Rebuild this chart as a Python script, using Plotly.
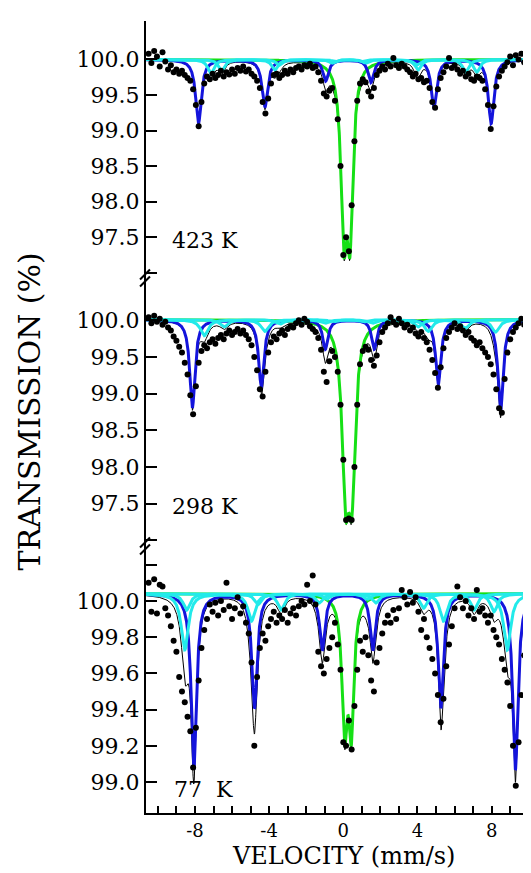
import numpy as np
import plotly.graph_objects as go

# ---------------- data ----------------
# velocity channels (mm/s), same for all three spectra
VELOCITY = [round(-10.5 + 0.15 * i, 2) for i in range(140)]

T423_DATA = [
    100.08, 99.95, 100.12, 100.04, 99.90, 100.10, 99.97, 99.86, 99.92, 99.82,
    99.86, 99.80, 99.84, 99.78, 99.74, 99.70, 99.58, 99.36, 99.06, 99.40,
    99.66, 99.76, 99.72, 99.80, 99.74, 99.78, 99.84, 99.76, 99.82, 99.79,
    99.86, 99.80, 99.88, 99.84, 99.90, 99.83, 99.86, 99.80, 99.76, 99.70,
    99.60, 99.40, 99.24, 99.45, 99.66, 99.78, 99.80, 99.74, 99.78, 99.84,
    99.80, 99.86, 99.82, 99.88, 99.90, 99.86, 99.92, 99.90, 99.94, 99.88,
    99.90, 99.82, 99.70, 99.52, 99.48, 99.56, 99.60, 99.42, 99.16, 98.50,
    97.25, 97.50, 97.30, 97.95, 98.85, 99.42, 99.66, 99.72, 99.68, 99.55,
    99.48, 99.60, 99.78, 99.84, 99.90, 99.86, 99.94, 99.90, 100.02, 99.92,
    99.88, 99.94, 99.90, 99.86, 99.82, 99.76, 99.80, 99.72, 99.74, 99.68,
    99.70, 99.60, 99.40, 99.32, 99.58, 99.74, 99.82, 99.90, 100.02, 99.88,
    99.92, 99.86, 99.80, 99.84, 99.76, 99.80, 99.72, 99.70, 99.76, 99.74,
    99.70, 99.58, 99.36, 99.02, 99.34, 99.62, 99.76, 99.84, 99.90, 99.96,
    100.04, 99.92, 100.06, 100.00, 100.08, 99.96, 100.10, 100.02, 99.94, 100.06,
]

T298_DATA = [
    100.04, 99.96, 100.06, 99.98, 100.02, 99.94, 99.98, 99.90, 99.86, 99.78,
    99.72, 99.64, 99.56, 99.42, 99.26, 98.98, 98.72, 99.10, 99.42, 99.58,
    99.66, 99.62, 99.70, 99.74, 99.68, 99.76, 99.80, 99.74, 99.82, 99.86,
    99.80, 99.84, 99.88, 99.82, 99.86, 99.80, 99.74, 99.66, 99.50, 99.32,
    99.06, 98.96, 99.30, 99.56, 99.70, 99.78, 99.74, 99.82, 99.86, 99.80,
    99.88, 99.92, 99.90, 99.96, 100.00, 99.94, 100.02, 99.98, 99.92, 99.88,
    99.84, 99.76, 99.60, 99.30, 99.16, 99.44, 99.58, 99.50, 99.30, 98.85,
    98.10, 97.28, 97.30, 97.28, 98.00, 98.85, 99.40, 99.58, 99.64, 99.60,
    99.46, 99.38, 99.52, 99.70, 99.84, 99.90, 99.96, 100.04, 99.98, 99.94,
    100.02, 99.96, 99.90, 99.94, 99.86, 99.90, 99.82, 99.78, 99.84, 99.76,
    99.70, 99.60, 99.46, 99.28, 99.08, 99.36, 99.62, 99.76, 99.84, 99.90,
    99.96, 99.88, 99.92, 99.86, 99.80, 99.84, 99.76, 99.72, 99.66, 99.70,
    99.62, 99.56, 99.50, 99.40, 99.26, 99.06, 98.80, 98.74, 99.20, 99.56,
    99.74, 99.84, 99.90, 99.96, 100.02, 99.94, 100.06, 100.00, 100.10, 100.04,
]

T77_DATA = [
    100.10, 99.94, 100.12, 99.93, 100.09, 100.08, 99.96, 99.92, 99.86, 99.78,
    99.72, 99.58, 99.50, 99.44, 99.36, 99.28, 99.08, 99.30, 99.56, 99.74,
    99.84, 99.90, 99.98, 99.94, 99.99, 99.92, 100.00, 99.95, 100.10, 99.97,
    99.90, 99.96, 100.02, 99.93, 99.97, 99.88, 99.82, 99.66, 99.20, 99.58,
    99.74, 99.82, 99.78, 99.86, 99.90, 99.94, 99.88, 99.92, 99.90, 99.95,
    99.88, 99.93, 99.96, 99.92, 99.97, 100.00, 99.98, 100.09, 100.00, 100.14,
    99.98, 99.72, 99.64, 99.60, 99.68, 99.74, 99.80, 99.88, 99.76, 99.62,
    99.22, 99.20, 99.34, 99.18, 99.42, 99.62, 99.78, 99.72, 99.80, 99.70,
    99.56, 99.50, 99.66, 99.74, 99.82, 99.88, 99.92, 99.88, 99.95, 99.90,
    99.96, 100.06, 100.02, 99.98, 100.05, 99.99, 100.02, 99.94, 99.84, 99.90,
    99.80, 99.74, 99.68, 99.60, 99.48, 99.33, 99.46, 99.64, 99.76, 99.86,
    99.96, 100.08, 100.02, 99.96, 100.00, 99.92, 99.96, 99.90, 100.06, 99.94,
    99.96, 99.92, 99.88, 99.92, 99.84, 99.80, 99.76, 99.68, 99.62, 99.55,
    99.42, 99.20, 98.98, 99.22, 99.48, 99.70, 99.84, 99.96, 100.06, 100.02,
]

TEMPERATURE_LABELS = ["423 K", "298 K", "77\u00a0\u00a0K"]

# fitted sub-spectra: line positions (mm/s), depths (%), widths (mm/s)
T423_BASELINE = 100.0
T423_BLUE_POS = [-7.81, -4.23, -0.95, 1.49, 4.89, 7.97]
T423_BLUE_DEPTH = [0.90, 0.67, 0.30, 0.32, 0.67, 0.90]
T423_BLUE_WIDTH = 0.36
T423_GREEN_POS = [0.03, 0.36]
T423_GREEN_DEPTH = [2.22, 2.22]
T423_GREEN_WIDTH = 0.38
T423_CYAN1_POS = [-7.14, -3.69, -0.60, 1.20, 4.03, 7.20]
T423_CYAN1_DEPTH = [0.20, 0.15, 0.05, 0.05, 0.15, 0.18]
T423_CYAN2_POS = [-6.56, -3.45, -0.45, 1.00, 3.95, 6.60]
T423_CYAN2_DEPTH = [0.16, 0.08, 0.03, 0.03, 0.08, 0.18]
T423_CYAN_WIDTH = 0.40

T298_BASELINE = 100.01
T298_BLUE_POS = [-8.14, -4.42, -0.97, 1.67, 5.12, 8.48]
T298_BLUE_DEPTH = [1.20, 0.92, 0.40, 0.40, 0.88, 1.25]
T298_BLUE_WIDTH = 0.34
T298_GREEN_POS = [0.12, 0.46]
T298_GREEN_DEPTH = [2.10, 2.10]
T298_GREEN_WIDTH = 0.44
T298_CYAN1_POS = [-7.50, -4.23, -1.00, 1.55, 4.58, 8.21]
T298_CYAN1_DEPTH = [0.22, 0.16, 0.05, 0.05, 0.16, 0.17]
T298_CYAN2_POS = [-6.42, -3.40, -0.55, 1.10, 4.03, 6.57]
T298_CYAN2_DEPTH = [0.10, 0.06, 0.03, 0.03, 0.10, 0.12]
T298_CYAN_WIDTH = 0.50

T77_BASELINE = 100.04
T77_BLUE_POS = [-8.06, -4.79, -1.13, 1.59, 5.26, 9.28]
T77_BLUE_DEPTH = [0.97, 0.63, 0.31, 0.31, 0.63, 0.97]
T77_BLUE_WIDTH = 0.34
T77_GREEN_POS = [0.07, 0.43]
T77_GREEN_DEPTH = [0.71, 0.71]
T77_GREEN_WIDTH = 0.34
T77_CYAN1_POS = [-8.55, -4.95, -1.30, 1.75, 5.40, 8.84]
T77_CYAN1_DEPTH = [0.31, 0.15, 0.05, 0.05, 0.15, 0.31]
T77_CYAN2_POS = [-8.45, -4.60, -0.90, 1.30, 4.33, 8.12]
T77_CYAN2_DEPTH = [0.09, 0.06, 0.03, 0.03, 0.08, 0.10]
T77_CYAN3_POS = [-3.36, 7.05]
T77_CYAN3_DEPTH = [0.09, 0.09]
T77_CYAN_WIDTH = 0.45

X_TICKS = list(range(-10, 11))
X_TICK_TEXT = [str(v) if v % 4 == 0 and abs(v) < 10 else "" for v in X_TICKS]
HIGH_T_TICKS = [97.0, 97.5, 98.0, 98.5, 99.0, 99.5, 100.0]
HIGH_T_TICK_TEXT = ["", "97.5", "98.0", "98.5", "99.0", "99.5", "100.0"]
LOW_T_TICKS = [99.0, 99.2, 99.4, 99.6, 99.8, 100.0, 100.2]
LOW_T_TICK_TEXT = ["99.0", "99.2", "99.4", "99.6", "99.8", "100.0", ""]

# ---------------- layout geometry ----------------
W, H = 531, 873
ML, MR, MT, MB = 138, 0, 13, 68
PW = W - ML - MR
PH = H - MT - MB
X_RANGE = [-10.64, 10.445]
Y1_RANGE = [96.925, 100.541]
Y2_RANGE = [96.911, 100.576]
Y3_RANGE = [98.829, 100.298]
D3 = [0.0, 0.3359]
D2 = [0.3359, 0.6755]
D1 = [0.6755, 1.0]

BLUE = "#1414dc"
GREEN = "#16e016"
CYAN = "#22eaea"
FONT = "DejaVu Serif"


def lorentz(v, pos, depth, width):
    g = width / 2.0
    out = np.zeros_like(v)
    for p, d in zip(pos, depth):
        out += d / (1.0 + ((v - p) / g) ** 2)
    return out


vfine = np.linspace(X_RANGE[0], X_RANGE[1], 3000)

panels = [
    dict(yaxis="y", data=T423_DATA, base=T423_BASELINE, comps=[
        (GREEN, T423_GREEN_POS, T423_GREEN_DEPTH, T423_GREEN_WIDTH),
        (BLUE, T423_BLUE_POS, T423_BLUE_DEPTH, T423_BLUE_WIDTH),
        (CYAN, T423_CYAN1_POS, T423_CYAN1_DEPTH, T423_CYAN_WIDTH),
        (CYAN, T423_CYAN2_POS, T423_CYAN2_DEPTH, T423_CYAN_WIDTH),
    ]),
    dict(yaxis="y2", data=T298_DATA, base=T298_BASELINE, comps=[
        (GREEN, T298_GREEN_POS, T298_GREEN_DEPTH, T298_GREEN_WIDTH),
        (BLUE, T298_BLUE_POS, T298_BLUE_DEPTH, T298_BLUE_WIDTH),
        (CYAN, T298_CYAN1_POS, T298_CYAN1_DEPTH, T298_CYAN_WIDTH),
        (CYAN, T298_CYAN2_POS, T298_CYAN2_DEPTH, T298_CYAN_WIDTH),
    ]),
    dict(yaxis="y3", data=T77_DATA, base=T77_BASELINE, comps=[
        (GREEN, T77_GREEN_POS, T77_GREEN_DEPTH, T77_GREEN_WIDTH),
        (BLUE, T77_BLUE_POS, T77_BLUE_DEPTH, T77_BLUE_WIDTH),
        (CYAN, T77_CYAN1_POS, T77_CYAN1_DEPTH, T77_CYAN_WIDTH),
        (CYAN, T77_CYAN2_POS, T77_CYAN2_DEPTH, T77_CYAN_WIDTH),
        (CYAN, T77_CYAN3_POS, T77_CYAN3_DEPTH, T77_CYAN_WIDTH),
    ]),
]

fig = go.Figure()
for p in panels:
    total = p["base"] - sum(lorentz(vfine, c[1], c[2], c[3]) for c in p["comps"])
    fig.add_trace(go.Scatter(x=vfine, y=total, mode="lines", yaxis=p["yaxis"], xaxis="x",
                             line=dict(color="black", width=1), hoverinfo="skip"))
    for color, pos, depth, width in p["comps"]:
        fig.add_trace(go.Scatter(x=vfine, y=p["base"] - lorentz(vfine, pos, depth, width),
                                 mode="lines", yaxis=p["yaxis"], xaxis="x",
                                 line=dict(color=color, width=3), hoverinfo="skip"))
    fig.add_trace(go.Scatter(x=VELOCITY, y=p["data"], mode="markers", yaxis=p["yaxis"], xaxis="x",
                             marker=dict(color="black", size=6, line=dict(width=0))))

axis_common = dict(showgrid=False, zeroline=False, showline=True, linecolor="black",
                   linewidth=2, ticks="inside", tickcolor="black", tickwidth=2)


def yaxis(domain, rng, vals, text):
    return dict(domain=domain, range=rng, anchor="x", mirror="ticks", ticklen=11,
                tickvals=vals, ticktext=text, tickfont=dict(family=FONT, size=22, color="black"),
                **axis_common)


def px_x(px):
    return (px - ML) / PW


def px_y(py):
    return (H - MB - py) / PH


shapes = []
for yc in (270, 538):
    for dy in (-3.5, 3.5):
        for x0 in (132, 525):
            shapes.append(dict(type="line", xref="paper", yref="paper",
                               x0=px_x(x0), x1=px_x(x0 + 10),
                               y0=px_y(yc + dy + 5), y1=px_y(yc + dy - 5),
                               line=dict(color="black", width=2)))

annotations = [
    dict(text=TEMPERATURE_LABELS[0], x=-9.35, y=97.45, xref="x", yref="y",
         xanchor="left", yanchor="middle", showarrow=False,
         font=dict(family=FONT, size=22, color="black")),
    dict(text=TEMPERATURE_LABELS[1], x=-9.35, y=97.46, xref="x", yref="y2",
         xanchor="left", yanchor="middle", showarrow=False,
         font=dict(family=FONT, size=22, color="black")),
    dict(text=TEMPERATURE_LABELS[2], x=-9.25, y=98.96, xref="x", yref="y3",
         xanchor="left", yanchor="middle", showarrow=False,
         font=dict(family=FONT, size=22, color="black")),
    dict(text="VELOCITY (mm/s)", x=px_x(337), y=px_y(848), xref="paper", yref="paper",
         xanchor="center", yanchor="middle", showarrow=False, borderpad=0,
         font=dict(family=FONT, size=24, color="black")),
    dict(text="TRANSMISSION (%)", x=px_x(20), y=px_y(404), xref="paper", yref="paper",
         xanchor="center", yanchor="middle", textangle=-90, showarrow=False,
         font=dict(family=FONT, size=30, color="black")),
]

fig.update_layout(
    width=W, height=H,
    margin=dict(l=ML, r=MR, t=MT, b=MB, pad=0),
    paper_bgcolor="white", plot_bgcolor="white",
    showlegend=False,
    font=dict(family=FONT, color="black"),
    xaxis=dict(range=X_RANGE, anchor="y3", ticklen=7, tickvals=X_TICKS, ticktext=X_TICK_TEXT,
               tickfont=dict(family=FONT, size=18, color="black"), ticklabelstandoff=0,
               **axis_common),
    xaxis2=dict(range=X_RANGE, anchor="y", overlaying="x", side="top", ticklen=7,
                tickvals=X_TICKS, showticklabels=False, **axis_common),
    yaxis=yaxis(D1, Y1_RANGE, HIGH_T_TICKS, HIGH_T_TICK_TEXT),
    yaxis2=yaxis(D2, Y2_RANGE, HIGH_T_TICKS, HIGH_T_TICK_TEXT),
    yaxis3=yaxis(D3, Y3_RANGE, LOW_T_TICKS, LOW_T_TICK_TEXT),
    shapes=shapes,
    annotations=annotations,
)

fig.write_html("out.html")
